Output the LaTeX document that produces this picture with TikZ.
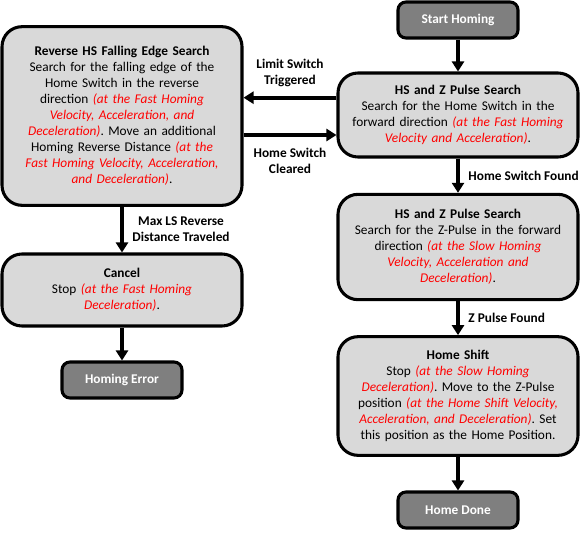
\documentclass[tikz,border=0pt]{standalone}
\usepackage{fontspec}
\setmainfont{Carlito}
\usepackage{xcolor}
\usetikzlibrary{positioning,arrows.meta}
\definecolor{boxgray}{HTML}{D9D9D9}
\definecolor{termgray}{HTML}{7F7F7F}
\newcommand{\rate}[1]{\textcolor{red}{\itshape #1}}
\frenchspacing

\begin{document}
\begin{tikzpicture}[x=0.75pt,y=-0.75pt,>={Triangle[length=7.5pt,width=9pt]},
  state/.style={draw,line width=2.3pt,rounded corners=15pt,fill=boxgray,align=center,text width=165pt,inner xsep=7.5pt,font=\fontsize{10}{12}\selectfont},
  term/.style={draw,line width=2.3pt,rounded corners=6pt,fill=termgray,text=white,font=\fontsize{10}{12}\selectfont\bfseries,minimum width=90pt,minimum height=27pt},
  flow/.style={->,line width=3pt},
  lbl/.style={font=\fontsize{10}{12}\selectfont\bfseries,align=center}]
\useasboundingbox (0,0) rectangle (581,532);
\node[state,minimum height=134pt] (rev) at (122,116) {\textbf{Reverse HS Falling Edge Search}\\Search for the falling edge of the\\Home Switch in the reverse\\direction \rate{(at the Fast Homing}\\\rate{Velocity, Acceleration, and}\\\rate{Deceleration)}. Move an additional\\Homing Reverse Distance \rate{(at the}\\\rate{Fast Homing Velocity, Acceleration,}\\\rate{and Deceleration)}.};
\node[state,minimum height=54pt] (cancel) at (122,290) {\textbf{Cancel}\\Stop \rate{(at the Fast Homing}\\\rate{Deceleration)}.};
\node[term] (err) at (122,380) {Homing Error};
\node[term] (start) at (458,20) {Start Homing};
\node[state,minimum height=63pt] (hssearch) at (458,115) {\textbf{HS and Z Pulse Search}\\Search for the Home Switch in the\\forward direction \rate{(at the Fast Homing}\\\rate{Velocity and Acceleration)}.};
\node[state,minimum height=79pt] (zsearch) at (458,247) {\textbf{HS and Z Pulse Search}\\Search for the Z-Pulse in the forward\\direction \rate{(at the Slow Homing}\\\rate{Velocity, Acceleration and}\\\rate{Deceleration)}.};
\node[state,minimum height=89pt] (shift) at (458,396) {\textbf{Home Shift}\\Stop \rate{(at the Slow Homing}\\\rate{Deceleration)}. Move to the Z-Pulse\\position \rate{(at the Home Shift Velocity,}\\\rate{Acceleration, and Deceleration)}. Set\\this position as the Home Position.};
\node[term] (done) at (458,510) {Home Done};
\draw[flow] (start) -- (hssearch);
\draw[flow] ([yshift=13pt]hssearch.west) -- ([yshift=13pt]hssearch.west -| rev.east) node[midway,above=3pt,lbl]{Limit Switch\\Triggered};
\draw[flow] ([yshift=-15pt]hssearch.west -| rev.east) -- ([yshift=-15pt]hssearch.west) node[midway,below=5pt,lbl]{Home Switch\\Cleared};
\draw[flow] (hssearch) -- (zsearch) node[midway,right=3pt,lbl]{Home Switch Found};
\draw[flow] (zsearch) -- (shift) node[midway,right=3pt,lbl]{Z Pulse Found};
\draw[flow] (shift) -- (done);
\draw[flow] (rev) -- (cancel) node[midway,right=3pt,lbl]{Max LS Reverse\\Distance Traveled};
\draw[flow] (cancel) -- (err);
\end{tikzpicture}
\end{document}
